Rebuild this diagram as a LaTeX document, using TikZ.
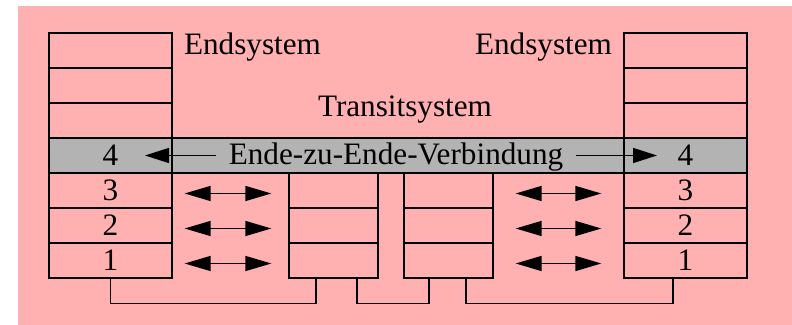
\documentclass[tikz,border=0pt]{standalone}
\usepackage{fontspec}
\setmainfont{Liberation Serif}
\usepackage{tikz}
\usetikzlibrary{calc,arrows.meta}
\definecolor{rosa}{RGB}{255,176,176}
\definecolor{grau}{RGB}{179,179,179}

\begin{document}
\begin{tikzpicture}[x=0.5pt,y=0.5pt,
    schicht/.style={draw,line width=0.65pt,minimum width=61.5pt,minimum height=17.5pt,inner sep=0pt},
    zwischen/.style={schicht,minimum width=44.5pt},
    pfeil/.style={line width=0.7pt,-{Triangle[length=12pt,width=7.5pt]}},
    doppelpfeil/.style={line width=0.7pt,{Triangle[length=13pt,width=7.5pt]}-{Triangle[length=13pt,width=7.5pt]}},
    leitung/.style={line width=0.65pt},
    beschriftung/.style={inner sep=0pt},
    font=\rmfamily\fontsize{15.6}{18}\selectfont]
      \useasboundingbox (0,0) rectangle (792,325);
      \fill[rosa] (18,0) rectangle (792,319);
      % Transportschicht ueber alles
      \node[draw,fill=grau,line width=0.65pt,minimum width=349pt,minimum height=17.5pt,inner sep=0pt]
        (bar) at (398,169.5) {};
      % Endsysteme
      \foreach \n/\ntext in {1/1,2/2,3/3,4/4,5/,6/,7/}
      {
        \node[schicht] (L\n) at (110.5,{29.5+35*\n}) {\ntext};
        \node[schicht] (R\n) at (685.5,{29.5+35*\n}) {\ntext};
      };
      % Transitsystem
      \foreach \n in {1,2,3}
      {
        \node[zwischen] (A\n) at (333.5,{29.5+35*\n}) {};
        \node[zwischen] (B\n) at (448.5,{29.5+35*\n}) {};
        \draw[doppelpfeil] ($(L\n.east)+(12,-3)$) -- ($(A\n.west)+(-17,-3)$);
        \draw[doppelpfeil] ($(B\n.east)+(22,-3)$) -- ($(R\n.west)+(-22,-3)$);
      };
      \node[beschriftung,anchor=base west] (es1) at ($(L7.east)+(11,-4.5)$) {Endsystem};
      \node[beschriftung,anchor=base east] (es2) at ($(R7.west)+(-11,-4.5)$) {Endsystem};
      \node[beschriftung,anchor=base] (ts) at (405,208) {Transitsystem};
      % Ende-zu-Ende
      \node[anchor=base,inner xsep=6pt,inner ysep=0pt] (e2e) at (396,160) {Ende-zu-Ende-Verbindung};
      \draw[pfeil] (e2e.west |- L4) -- ($(L4.center)+(34.5,0)$);
      \draw[pfeil] (e2e.east |- R4) -- ($(R4.center)+(-28.5,0)$);
      % Leitungen
      \draw[leitung] (L1.south) |- ($(A1.south)+(-17.5,-25)$) -- ($(A1.south)+(-17.5,0)$);
      \draw[leitung] ($(A1.south)+(23.5,0)$) |- ($(B1.south)+(-19.5,-25)$) -- ($(B1.south)+(-19.5,0)$);
      \draw[leitung] ($(B1.south)+(17.5,0)$) |- ($(R1.south)+(-12.5,-25)$) -- ($(R1.south)+(-12.5,0)$);
    \end{tikzpicture}
\end{document}
